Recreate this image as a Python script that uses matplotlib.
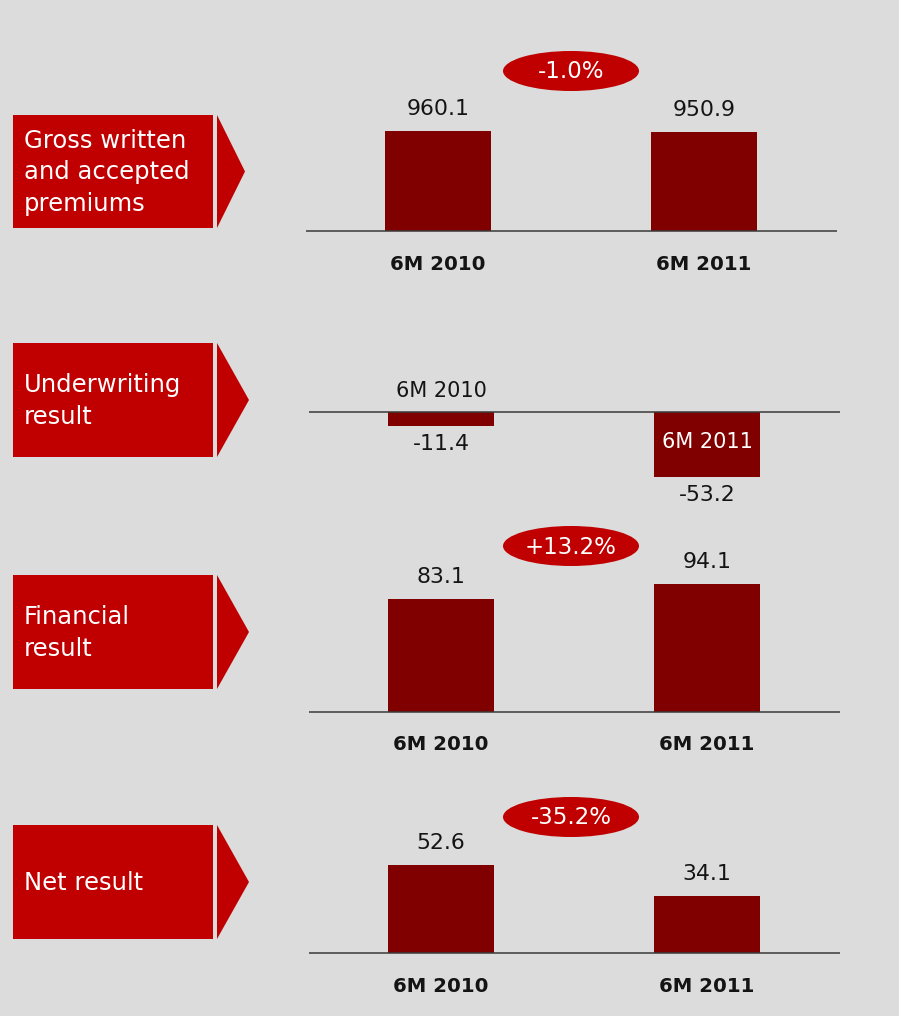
import matplotlib
matplotlib.use('Agg')
import matplotlib.pyplot as plt
from matplotlib.patches import Ellipse, Rectangle, Polygon

# ---------------- data ----------------
categories = ['6M 2010', '6M 2011']
titles = ['Gross written\nand accepted\npremiums', 'Underwriting\nresult',
          'Financial\nresult', 'Net result']
gross_premiums = [960.1, 950.9]
underwriting_result = [-11.4, -53.2]
financial_result = [83.1, 94.1]
net_result = [52.6, 34.1]
series = [gross_premiums, underwriting_result, financial_result, net_result]
show_change = [True, False, True, True]

# ---------------- style / layout ----------------
W, H = 899, 1016
BG = '#dcdcdc'
BOX_RED = '#c00000'
BAR_RED = '#800000'
TXT = '#141414'
plt.rcParams['font.family'] = ['DejaVu Sans']

# per panel: baseline (px from top), scale (px per unit), box top/bottom, arrow tip x,
# ellipse centre y, axis left/right px
layout = [
    dict(base=231, scale=100 / 960.1, box=(115, 228), tip=245, ell=71, ax=(306, 837)),
    dict(base=412, scale=1.22, box=(343, 457), tip=249, ell=None, ax=(309, 840)),
    dict(base=712, scale=1.355, box=(575, 689), tip=249, ell=546, ax=(309, 840)),
    dict(base=953, scale=1.68, box=(825, 939), tip=249, ell=817, ax=(309, 840)),
]

fig = plt.figure(figsize=(W / 100, H / 100), dpi=100)
fig.patch.set_facecolor(BG)

ov = fig.add_axes([0, 0, 1, 1], zorder=0)
ov.set_xlim(0, W)
ov.set_ylim(H, 0)
ov.axis('off')

PX = 0.72  # points per pixel at 100 dpi
x = [0, 1]

for i, (vals, lay) in enumerate(zip(series, layout)):
    # left title box with arrow
    t, b = lay['box']
    ov.add_patch(Rectangle((13, t), 200, b - t, facecolor=BOX_RED, edgecolor='none'))
    ov.add_patch(Polygon([(217, t), (lay['tip'], (t + b) / 2), (217, b)],
                         closed=True, facecolor=BOX_RED, edgecolor='none'))
    ov.text(24, (t + b) / 2 + 1, titles[i], color='white', fontsize=17.5,
            ha='left', va='center', linespacing=1.42)

    # change ellipse
    if show_change[i]:
        ch = (vals[1] / vals[0] - 1) * 100
        ov.add_patch(Ellipse((571, lay['ell']), 136, 40, facecolor=BOX_RED, edgecolor='none'))
        ov.text(571, lay['ell'] + 1, f'{ch:+.1f}%', color='white', fontsize=16.5,
                ha='center', va='center')

    # bar panel
    base, sc = lay['base'], lay['scale']
    axl, axr = lay['ax']
    top_px, bot_px = base - 190, base + 100
    ax = fig.add_axes([axl / W, 1 - bot_px / H, (axr - axl) / W, (bot_px - top_px) / H],
                      zorder=1)
    ax.patch.set_alpha(0)
    ax.set_xlim(-0.496, 1.5)
    ax.set_ylim(-(bot_px - base) / sc, (base - top_px) / sc)
    ax.axis('off')
    ax.bar(x, vals, width=0.40, color=BAR_RED, edgecolor='none', zorder=2)
    ax.axhline(0, color='#3a3a3a', lw=1.1, zorder=3)

    for xi, v in zip(x, vals):
        off = 22 if v >= 0 else -18
        ax.annotate(f'{v:.1f}', (xi, v), xytext=(0, off * PX), textcoords='offset points',
                    ha='center', va='center', fontsize=15.8, color=TXT,
                    annotation_clip=False)

    if i == 1:
        ax.annotate(categories[0], (x[0], 0), xytext=(0, 21 * PX), textcoords='offset points',
                    ha='center', va='center', fontsize=15, color=TXT, annotation_clip=False)
        ax.annotate(categories[1], (x[1], 0), xytext=(0, -30 * PX), textcoords='offset points',
                    ha='center', va='center', fontsize=15, color='white', zorder=4,
                    annotation_clip=False)
    else:
        for xi, c in zip(x, categories):
            ax.annotate(c, (xi, 0), xytext=(0, -33 * PX), textcoords='offset points',
                        ha='center', va='center', fontsize=14.2, fontweight='bold',
                        color=TXT, annotation_clip=False)

fig.savefig('out.png', dpi=100, facecolor=BG)
